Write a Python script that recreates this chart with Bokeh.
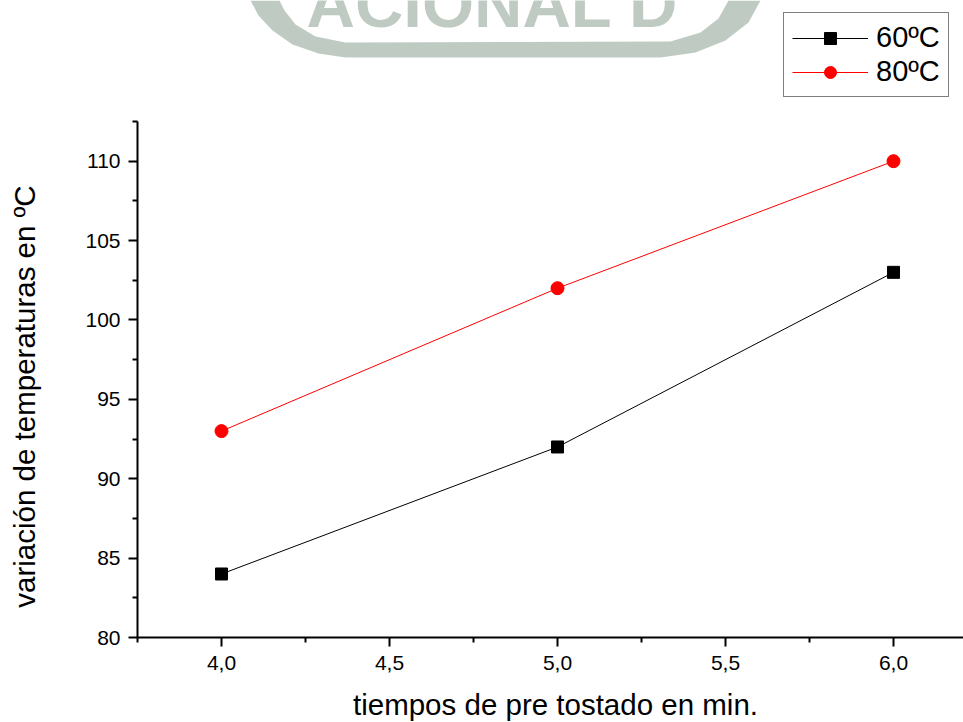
import math
from bokeh.plotting import figure
from bokeh.models import (FixedTicker, Legend, LegendItem, Label, PolyAnnotation,
                          Range1d)
from bokeh.embed import file_html
from bokeh.resources import INLINE

# data
tiempo = [4.0, 5.0, 6.0]
temp_60 = [84, 92, 103]
temp_80 = [93, 102, 110]
series_names = ["60ºC", "80ºC"]
x_ticks = [4.0, 4.5, 5.0, 5.5, 6.0]
x_tick_labels = ["4,0", "4,5", "5,0", "5,5", "6,0"]
x_minor = [3.75, 4.25, 4.75, 5.25, 5.75]
y_ticks = [80, 85, 90, 95, 100, 105, 110]
y_minor = [82.5, 87.5, 92.5, 97.5, 102.5, 107.5, 112.5]
x_axis_start, y_axis_start, y_axis_top = 3.75, 80, 112.5
x_label = "tiempos de pre tostado en min."
y_label = "variación de temperaturas en ºC"

FONT = "Liberation Sans"
W, H = 963, 722
# pixel geometry of the plotting area in the reference
AX_L, AX_B, AX_T = 137, 637, 121
XPX = (893 - 221) / 2.0                       # px per minute
YPX = (AX_B - AX_T) / (y_axis_top - y_axis_start)  # px per degree
x0 = 4.0 - 221 / XPX
x1 = 4.0 + (W - 221) / XPX
y0 = y_axis_start - (H - AX_B) / YPX
y1 = y_axis_start + AX_B / YPX

p = figure(width=W, height=H, output_backend="svg", toolbar_location=None,
           x_range=Range1d(x0, x1), y_range=Range1d(y0, y1),
           min_border=0)
p.outline_line_color = None
p.grid.visible = False
p.background_fill_color = "white"
p.border_fill_color = "white"

for ax in (p.xaxis[0], p.yaxis[0]):
    ax.axis_line_width = 2
    ax.major_tick_line_width = 2
    ax.minor_tick_line_width = 2
    ax.major_tick_in = 0
    ax.major_tick_out = 9
    ax.minor_tick_in = 0
    ax.minor_tick_out = 5
    ax.major_label_text_font = FONT
    ax.major_label_text_font_size = "21px"
    ax.major_label_text_color = "black"

p.xaxis.fixed_location = y_axis_start
p.yaxis.fixed_location = x_axis_start
p.xaxis.bounds = (x_axis_start, x1)
p.yaxis.bounds = (y_axis_start, y_axis_top)
p.xaxis.ticker = FixedTicker(ticks=x_ticks, minor_ticks=x_minor)
p.xaxis.major_label_overrides = {t: s for t, s in zip(x_ticks, x_tick_labels)}
p.yaxis.ticker = FixedTicker(ticks=y_ticks, minor_ticks=y_minor)
p.xaxis.major_label_standoff = 9
p.yaxis.major_label_standoff = 8

# screen helpers (relative to the frame, which covers the canvas)
def fx(cx):
    return cx

def fy(cy):
    return H - cy

# axis titles
p.add_layout(Label(x=fx(555), y=fy(704), x_units="screen", y_units="screen",
                   text=x_label, text_font=FONT, text_font_size="29.5px",
                   text_color="black", text_align="center",
                   text_baseline="alphabetic"))
p.add_layout(Label(x=fx(24), y=fy(396), x_units="screen", y_units="screen",
                   text=y_label, text_font=FONT, text_font_size="29.5px",
                   text_color="black", text_align="center",
                   text_baseline="alphabetic", angle=math.pi / 2))

# watermark
outer = [(250, 0), (258, 15), (272, 30), (292, 44), (318, 53), (345, 57),
         (660, 57), (695, 52), (725, 40), (748, 22), (760, 0)]
inner = [(728, 0), (718, 18), (700, 32), (670, 41), (345, 42), (315, 36),
         (295, 24), (284, 10), (279, 0)]
pts = outer + inner
wm = PolyAnnotation(xs=[fx(a) for a, b in pts], ys=[fy(b) for a, b in pts],
                    xs_units="screen", ys_units="screen",
                    fill_color="#bfcbc2", fill_alpha=1, line_color=None,
                    level="underlay")
p.add_layout(wm)
p.add_layout(Label(x=fx(306), y=fy(3), x_units="screen", y_units="screen",
                   text="ACIONAL D", text_font=FONT, text_font_style="bold",
                   text_font_size="67px", text_color="#bfcbc2",
                   text_baseline="alphabetic", level="underlay"))

# series
l60 = p.line(tiempo, temp_60, line_color="black", line_width=1)
s60 = p.scatter(tiempo, temp_60, marker="square", size=12,
                fill_color="black", line_color="black")
l80 = p.line(tiempo, temp_80, line_color="#ff0000", line_width=1)
s80 = p.scatter(tiempo, temp_80, marker="circle", size=13,
                fill_color="#ff0000", line_color="#ff0000")

legend = Legend(items=[LegendItem(label=series_names[0], renderers=[l60, s60]),
                       LegendItem(label=series_names[1], renderers=[l80, s80])],
                location=(783, H - 97))
legend.border_line_color = "black"
legend.border_line_width = 1
legend.background_fill_color = "white"
legend.background_fill_alpha = 1
legend.label_text_font = FONT
legend.label_text_font_size = "29px"
legend.label_text_color = "black"
legend.glyph_width = 76
legend.glyph_height = 30
legend.label_standoff = 8
legend.padding = 8
legend.spacing = 1
legend.margin = 0
p.add_layout(legend)

open("out.html", "w").write(file_html(p, INLINE))
